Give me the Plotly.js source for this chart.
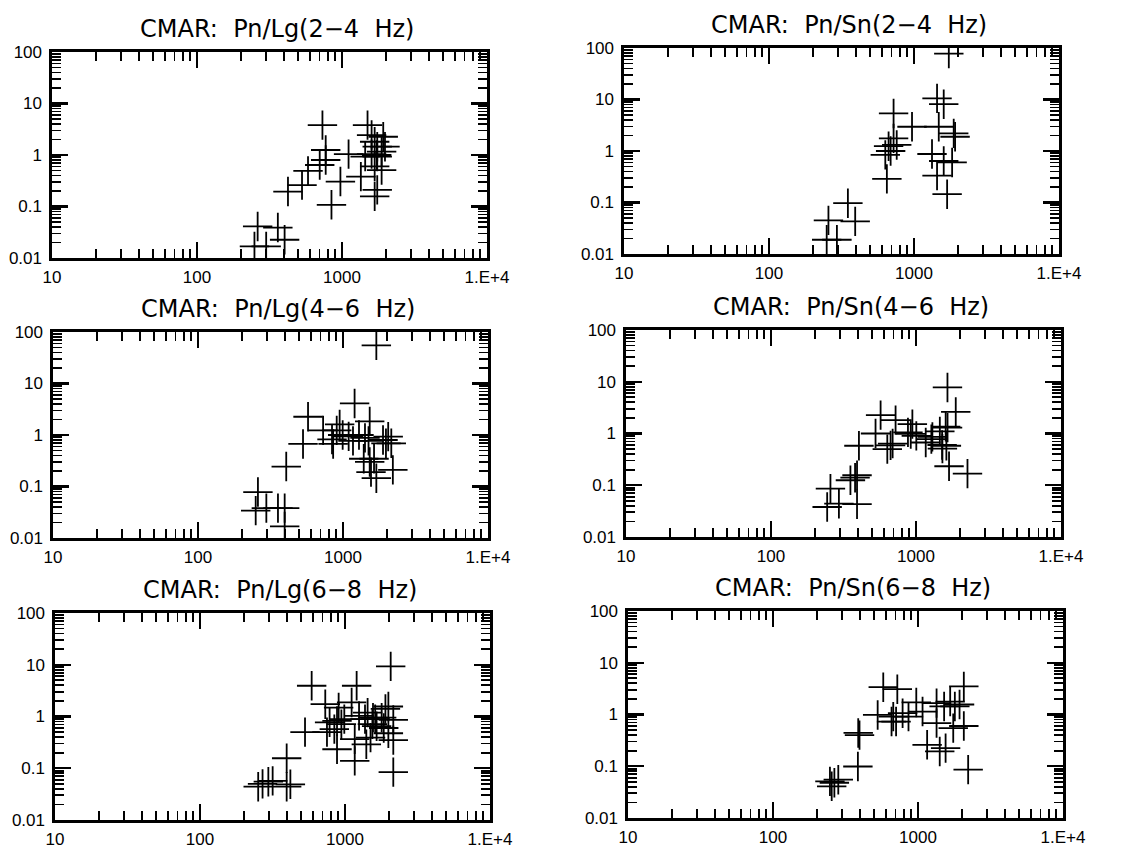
<!DOCTYPE html>
<html>
<head>
<meta charset="utf-8">
<script src="https://cdn.plot.ly/plotly-3.0.1.min.js"></script>
<style>html,body{margin:0;padding:0;background:#fff;}#chart{width:1130px;height:848px;}</style>
</head>
<body>
<div id="chart"></div>
<script>
// Panel titles
const titles = [
  "CMAR:\u00a0\u00a0Pn/Lg(2\u22124\u00a0\u00a0Hz)", "CMAR:\u00a0\u00a0Pn/Sn(2\u22124\u00a0\u00a0Hz)",
  "CMAR:\u00a0\u00a0Pn/Lg(4\u22126\u00a0\u00a0Hz)", "CMAR:\u00a0\u00a0Pn/Sn(4\u22126\u00a0\u00a0Hz)",
  "CMAR:\u00a0\u00a0Pn/Lg(6\u22128\u00a0\u00a0Hz)", "CMAR:\u00a0\u00a0Pn/Sn(6\u22128\u00a0\u00a0Hz)"
];

// Tick labels
const xTickVals = [10, 100, 1000, 10000];
const xTickText = ["10", "100", "1000", "1.E+4"];
const yTickVals = [0.01, 0.1, 1, 10, 100];
const yTickText = ["0.01", "0.1", "1", "10", "100"];

// Panel 1: Pn/Lg 2-4 Hz
const lg24_x = [733,772,772,702,583,530,424,846,975,1110,1349,1500,1600,1680,1750,1445,1600,1750,1680,1680,1750,1876,1979,1925,1876,1735,262,249,300,361,402];
const lg24_y = [3.8,1.25,0.8,0.64,0.49,0.26,0.195,0.108,0.305,1.04,0.38,3.8,2.44,1.81,1.45,0.93,1.04,0.93,0.6,0.157,0.21,1.16,1.45,2.26,0.51,1.0,0.041,0.0168,0.0168,0.039,0.0226];

// Panel 2: Pn/Sn 2-4 Hz
const sn24_x = [1738,1442,1603,1482,723,969,1879,1920,723,760,668,634,690,650,1331,1442,1603,1832,1692,350,393,257,250,294];
const sn24_y = [77.7,10.5,8.1,2.96,5.36,2.96,2.20,1.89,1.76,1.31,1.24,0.84,1.0,0.287,0.875,0.333,0.64,0.60,0.145,0.097,0.043,0.045,0.0189,0.0189];

// Panel 3: Pn/Lg 4-6 Hz
const lg46_x = [1698,1202,574,530,406,259,250,296,356,396,396,729,948,840,855,995,1094,1172,1289,1418,1528,1500,1390,1560,1637,905,1888,1978,2153,2050,2207,1698,1528];
const lg46_y = [55.2,4.1,2.26,0.67,0.244,0.078,0.034,0.038,0.038,0.038,0.0168,1.23,1.61,0.82,0.67,1.0,0.94,0.77,1.0,0.88,1.84,0.77,0.346,0.19,0.346,1.23,0.8,0.69,0.69,0.93,0.21,0.145,0.30];

// Panel 4: Pn/Sn 4-6 Hz
const sn46_x = [244,257,294,353,380,392,392,404,526,570,634,668,690,723,880,944,1005,920,1167,1276,1297,1460,1514,1521,1602,1650,1648,1690,1620,1880,2265];
const sn46_y = [0.038,0.086,0.044,0.125,0.14,0.156,0.043,0.58,1.0,2.26,0.5,0.59,0.64,1.81,1.05,1.52,0.9,0.98,0.67,0.78,0.86,1.1,0.6,0.51,1.35,1.3,7.76,0.233,0.58,2.62,0.168];

// Panel 5: Pn/Lg 6-8 Hz
const lg68_x = [2066,1203,589,731,1111,904,530,396,252,270,296,317,396,420,783,844,881,944,989,751,881,1167,1167,1250,1374,1432,1545,1615,1403,1500,1991,1900,2153,1991,2153,2153,1652,1560,1790,1850];
const lg68_y = [9.3,3.93,3.93,1.73,1.87,1.49,0.50,0.156,0.044,0.050,0.055,0.057,0.044,0.049,0.77,0.57,0.82,0.71,0.89,0.50,0.233,0.139,0.364,1.03,0.89,1.19,0.71,0.89,0.29,0.39,1.56,1.4,0.86,0.475,0.35,0.084,0.65,0.95,0.95,0.6];

// Panel 6: Pn/Sn 6-8 Hz
const sn68_x = [247,254,265,282,385,387,395,527,576,657,675,706,720,783,860,973,1075,1156,1343,1343,1412,1514,1550,1667,1750,1795,1934,2070,2070,2218];
const sn68_y = [0.051,0.041,0.048,0.055,0.099,0.44,0.40,0.98,3.37,0.73,0.91,0.73,3.08,1.06,0.91,1.71,1.14,0.26,0.68,1.66,0.193,1.43,0.224,1.78,0.545,1.43,1.56,3.5,0.6,0.086];

const seriesX = [lg24_x, sn24_x, lg46_x, sn46_x, lg68_x, sn68_x];
const seriesY = [lg24_y, sn24_y, lg46_y, sn46_y, lg68_y, sn68_y];

// panel frames in pixels [left, right, top, bottom]
const W = 1130, H = 848;
const frames = [
  [52, 487, 52, 258], [624, 1059, 48, 254],
  [53, 488, 332, 538], [626, 1061, 330, 537],
  [55, 490, 613, 820], [628, 1063, 611, 818]
];

const FONT = "Liberation Sans, Arial, sans-serif";
const data = [];
const layout = {
  width: W, height: H,
  margin: {l: 0, r: 0, t: 0, b: 0},
  paper_bgcolor: "#fff", plot_bgcolor: "#fff",
  showlegend: false,
  font: {family: FONT, size: 17, color: "#000"},
  annotations: []
};

for (let i = 0; i < 6; i++) {
  const n = i === 0 ? "" : String(i + 1);
  const f = frames[i];
  data.push({
    type: "scatter", mode: "markers",
    x: seriesX[i], y: seriesY[i],
    xaxis: "x" + n, yaxis: "y" + n,
    marker: {symbol: "cross-thin-open", size: 21, color: "#000", line: {width: 1.8, color: "#000"}},
    hoverinfo: "x+y"
  });
  const common = {
    type: "log", showgrid: false, zeroline: false,
    showline: true, linewidth: 2.6, linecolor: "#000", mirror: "ticks",
    ticks: "inside", ticklen: 16, tickwidth: 2.2, tickcolor: "#000",
    minor: {ticks: "inside", ticklen: 9, tickwidth: 1.8, tickcolor: "#000", dtick: "D1", showgrid: false},
    tickfont: {family: FONT, size: 17, color: "#000"}
  };
  layout["xaxis" + n] = Object.assign({}, common, {
    domain: [f[0] / W, f[1] / W], anchor: "y" + n,
    range: [1, 4], tickmode: "array", tickvals: xTickVals, ticktext: xTickText,
    ticklabelstandoff: 2
  });
  layout["yaxis" + n] = Object.assign({}, common, {
    domain: [1 - f[3] / H, 1 - f[2] / H], anchor: "x" + n,
    range: [-2, 2], tickmode: "array", tickvals: yTickVals, ticktext: yTickText,
    ticklabelstandoff: 4
  });
  layout.annotations.push({
    text: titles[i], xref: "paper", yref: "paper",
    x: ((f[0] + f[1]) / 2 + 7) / W, y: 1 - (f[2] - 7) / H,
    xanchor: "center", yanchor: "bottom", showarrow: false,
    font: {family: "DejaVu Sans, sans-serif", size: 24, color: "#000"}
  });
}

Plotly.newPlot("chart", data, layout, {displayModeBar: false, staticPlot: true});
</script>
</body>
</html>
